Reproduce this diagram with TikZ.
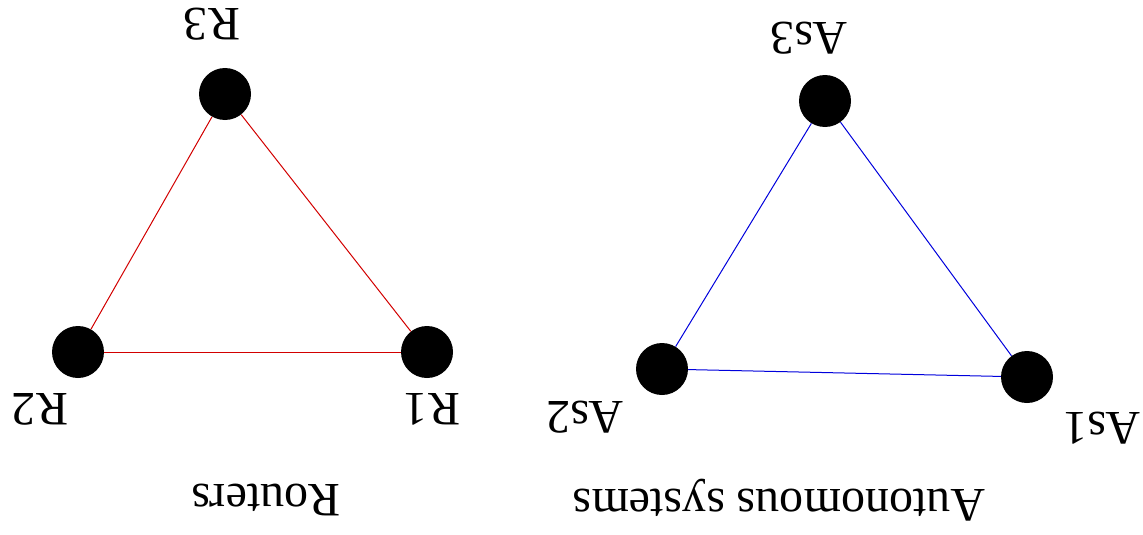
\documentclass[tikz,border=0pt]{standalone}
\usepackage{fontspec}
\setmainfont{Liberation Serif}
\begin{document}
\begin{tikzpicture}[x=1pt,y=-1pt,
  dot/.style={circle,fill=black,draw=none,minimum size=52pt,inner sep=0pt},
  lbl/.style={rotate=180,inner sep=0pt,font=\fontsize{48}{50}\selectfont},
  redline/.style={draw={rgb,255:red,210;green,0;blue,0},line width=1pt},
  blueline/.style={draw={rgb,255:red,0;green,0;blue,220},line width=1pt}]
\useasboundingbox (0,0) rectangle (1143,535);
% Routers
\node[dot] (R3) at (225,94) {};
\node[dot] (R2) at (78,352) {};
\node[dot] (R1) at (427,352) {};
\draw[redline] (R3) -- (R2);
\draw[redline] (R2) -- (R1);
\draw[redline] (R1) -- (R3);
\node[lbl] (tR3) at (212,24) {R3};
\node[lbl] (tR2) at (40,409) {R2};
\node[lbl] (tR1) at (432,409) {R1};
\node[lbl] (tRouters) at (266,500) {Routers};
% Autonomous systems
\node[dot] (A3) at (825,101) {};
\node[dot] (A2) at (662,369) {};
\node[dot] (A1) at (1027,377) {};
\draw[blueline] (A3) -- (A2);
\draw[blueline] (A2) -- (A1);
\draw[blueline] (A1) -- (A3);
\node[lbl] (tA3) at (809,38) {As3};
\node[lbl] (tA2) at (585,417) {As2};
\node[lbl] (tA1) at (1102,428) {As1};
\node[lbl] (tAS) at (779,500) {Autonomous systems};
\end{tikzpicture}
\end{document}
